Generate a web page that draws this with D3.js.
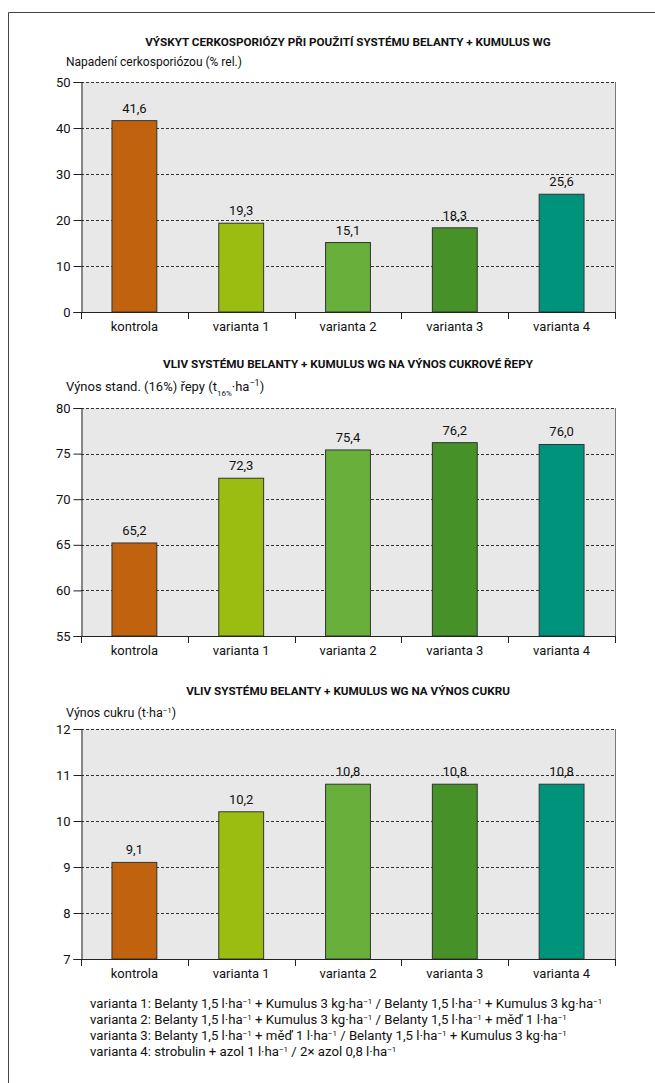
<!DOCTYPE html>
<html>
<head>
<meta charset="utf-8">
<style>
  body { margin: 0; background: #fff; }
  svg text { font-family: Roboto, "Liberation Sans", sans-serif; fill: #111; }
  .title { font-weight: bold; font-size: 11.7px; }
  .axis text { font-size: 13px; font-family: Roboto, sans-serif; }
</style>
</head>
<body>
<svg id="chart" width="655" height="1083"></svg>
<script src="https://cdn.jsdelivr.net/npm/d3@7"></script>
<script>
// data
var categories = ["kontrola", "varianta 1", "varianta 2", "varianta 3", "varianta 4"];
var barColors = ["#c1620f", "#9bbd12", "#68b03b", "#479228", "#00937c"];
var napadeni = [41.6, 19.3, 15.1, 18.3, 25.6];
var vynosRepy = [65.2, 72.3, 75.4, 76.2, 76.0];
var vynosCukru = [9.1, 10.2, 10.8, 10.8, 10.8];
var legendLines = [
  ["varianta 1: Belanty 1,5 l·ha", "−1", " + Kumulus 3 kg·ha", "−1", " / Belanty 1,5 l·ha", "−1", " + Kumulus 3 kg·ha", "−1"],
  ["varianta 2: Belanty 1,5 l·ha", "−1", " + Kumulus 3 kg·ha", "−1", " / Belanty 1,5 l·ha", "−1", " + měď 1 l·ha", "−1"],
  ["varianta 3: Belanty 1,5 l·ha", "−1", " + měď 1 l·ha", "−1", " / Belanty 1,5 l·ha", "−1", " + Kumulus 3 kg·ha", "−1"],
  ["varianta 4: strobulin + azol 1 l·ha", "−1", " / 2× azol 0,8 l·ha", "−1"]
];

var svg = d3.select("#chart");
var fmt = function(v) { return d3.format(".1f")(v).replace(".", ","); };

// outer frame (cut by the page)
svg.append("path").attr("d", "M8.5,1083 V12.5 H655")
  .attr("fill", "none").attr("stroke", "#444").attr("stroke-width", 1);

var left = 81, right = 615;

function drawChart(opt) {
  var g = svg.append("g");
  var x = d3.scaleBand().domain(categories).range([left, right])
    .paddingInner(0.58).paddingOuter(0.29);
  var y = d3.scaleLinear().domain(opt.domain).range([opt.bottom, opt.top]);
  var ticks = d3.range(opt.domain[0], opt.domain[1] + 0.001, opt.step);

  g.append("text").attr("class", "title")
    .attr("x", (left + right) / 2).attr("y", opt.titleY)
    .attr("text-anchor", "middle").text(opt.title);

  var yl = g.append("text").attr("x", 66).attr("y", opt.labelY).style("font-size", opt.labelSize || "13px");
  opt.label(yl);

  g.append("rect").attr("x", left).attr("y", opt.top)
    .attr("width", right - left).attr("height", opt.bottom - opt.top)
    .attr("fill", "#e8e8e8");

  g.selectAll(".grid").data(ticks).join("line")
    .attr("x1", left).attr("x2", right)
    .attr("y1", d => Math.round(y(d)) + 0.5).attr("y2", d => Math.round(y(d)) + 0.5)
    .attr("stroke", "#333").attr("stroke-dasharray", "3,2");

  g.append("line").attr("x1", right + 0.5).attr("x2", right + 0.5)
    .attr("y1", opt.top).attr("y2", opt.bottom).attr("stroke", "#777");

  g.selectAll(".bar").data(categories).join("rect")
    .attr("x", d => x(d)).attr("width", x.bandwidth())
    .attr("y", (d, i) => y(opt.values[i]))
    .attr("height", (d, i) => opt.bottom - y(opt.values[i]))
    .attr("fill", (d, i) => barColors[i])
    .attr("stroke", "#333").attr("stroke-width", 1);

  g.selectAll(".val").data(categories).join("text")
    .attr("x", d => x(d) + x.bandwidth() / 2)
    .attr("y", (d, i) => y(opt.values[i]) - 8)
    .attr("text-anchor", "middle").style("font-size", "13px")
    .text((d, i) => fmt(opt.values[i]));

  var ya = g.append("g").attr("class", "axis")
    .attr("transform", "translate(" + (left + 0.5) + ",0)")
    .call(d3.axisLeft(y).tickValues(ticks).tickSize(8).tickPadding(3).tickFormat(d3.format("d")));
  ya.selectAll("path, line").attr("stroke", "#222");
  ya.selectAll("text").attr("fill", "#111");

  var bounds = categories.map(d => x(d) - x.step() * 0.29).concat([right]);
  g.selectAll(".xt").data(bounds).join("line")
    .attr("x1", d => Math.round(d) + 0.5).attr("x2", d => Math.round(d) + 0.5)
    .attr("y1", opt.bottom).attr("y2", opt.bottom + 7).attr("stroke", "#222");
  g.append("line").attr("x1", left).attr("x2", right + 1)
    .attr("y1", opt.bottom + 0.5).attr("y2", opt.bottom + 0.5).attr("stroke", "#222");

  g.selectAll(".xl").data(categories).join("text")
    .attr("x", d => x(d) + x.bandwidth() / 2).attr("y", opt.bottom + 19)
    .attr("text-anchor", "middle").style("font-size", "13px").text(d => d);
}

drawChart({
  title: "VÝSKYT CERKOSPORIÓZY PŘI POUŽITÍ SYSTÉMU BELANTY + KUMULUS WG",
  titleY: 46, labelY: 66, labelSize: "12px",
  label: function(t) { t.text("Napadení cerkosporiózou (% rel.)"); },
  values: napadeni, domain: [0, 50], step: 10, top: 82, bottom: 312
});

drawChart({
  title: "VLIV SYSTÉMU BELANTY + KUMULUS WG NA VÝNOS CUKROVÉ ŘEPY",
  titleY: 368, labelY: 391,
  label: function(t) {
    t.append("tspan").text("Výnos stand. (16%) řepy (t");
    t.append("tspan").attr("baseline-shift", "sub").style("font-size", "8px").text("16%");
    t.append("tspan").text("·ha");
    t.append("tspan").attr("baseline-shift", "super").style("font-size", "9px").text("−1");
    t.append("tspan").text(")");
  },
  values: vynosRepy, domain: [55, 80], step: 5, top: 408, bottom: 636
});

drawChart({
  title: "VLIV SYSTÉMU BELANTY + KUMULUS WG NA VÝNOS CUKRU",
  titleY: 695, labelY: 717, labelSize: "12.5px",
  label: function(t) {
    t.append("tspan").text("Výnos cukru (t·ha");
    t.append("tspan").attr("baseline-shift", "super").style("font-size", "8px").text("−1");
    t.append("tspan").text(")");
  },
  values: vynosCukru, domain: [7, 12], step: 1, top: 729, bottom: 959
});

// legend
var leg = svg.append("g");
legendLines.forEach(function(parts, i) {
  var t = leg.append("text").attr("x", 90).attr("y", 1008 + i * 16).style("font-size", "13.2px");
  parts.forEach(function(p, j) {
    var s = t.append("tspan").text(p);
    if (j % 2 === 1) s.attr("baseline-shift", "super").style("font-size", "8px");
  });
});
</script>
</body>
</html>
